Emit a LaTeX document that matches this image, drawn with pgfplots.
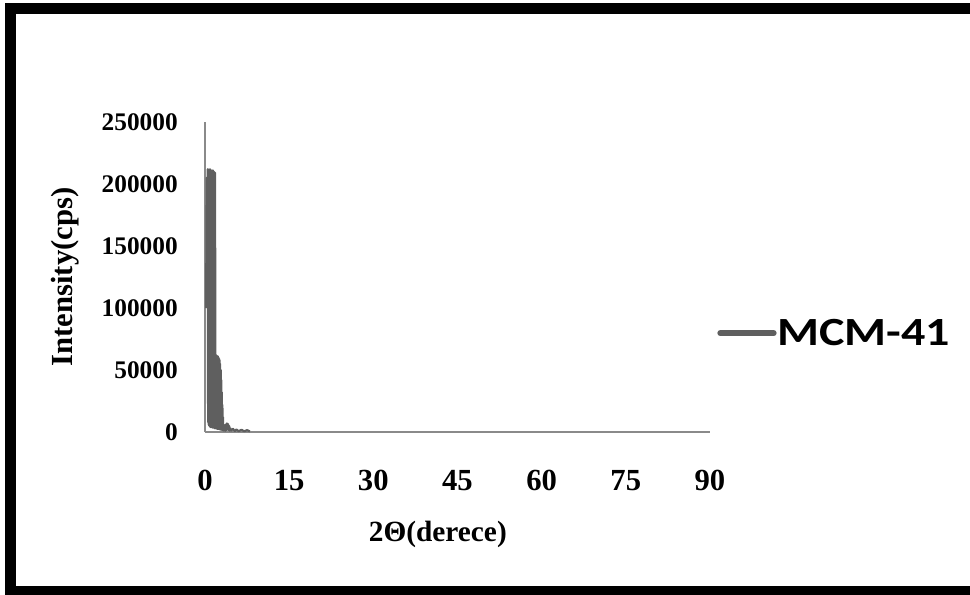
\documentclass[border=0pt]{standalone}
\usepackage{fontspec}
\setmainfont{Liberation Serif}
\newfontfamily\calib{Carlito}
\usepackage{graphicx}
\usepackage{pgfplots}
\pgfplotsset{compat=1.18}
\definecolor{dat}{HTML}{5F5F5F}
\definecolor{axc}{HTML}{8A8A8A}
\begin{document}
\begin{tikzpicture}
\useasboundingbox (0pt,0pt) rectangle (727.5pt,445.5pt);
\draw[line width=8.25pt] (745pt,438.75pt) -- (7.875pt,438.75pt) -- (7.875pt,2.25pt) -- (745pt,2.25pt);
\begin{axis}[
  at={(153.75pt,121.5pt)}, anchor=south west,
  scale only axis, width=378.75pt, height=232.5pt,
  xmin=0, xmax=90, ymin=0, ymax=250000,
  axis lines=left, axis line style={-, draw=axc, line width=1.3pt},
  major tick length=0pt,
  xtick={0,15,30,45,60,75,90},
  ytick={0,50000,100000,150000,200000,250000},
  scaled y ticks=false,
  /pgf/number format/assume math mode=true,
  yticklabel style={/pgf/number format/fixed, /pgf/number format/1000 sep={}, anchor=east, inner sep=0pt, xshift=-20.25pt, font=\fontsize{19}{22}\selectfont\bfseries},
  xticklabel style={anchor=base, inner sep=0pt, yshift=-43.5pt, font=\fontsize{23}{27}\selectfont\bfseries},
  xlabel={2Θ(derece)},
  ylabel={Intensity(cps)},
  xlabel style={at={(axis description cs:0.461,-0.332)}, anchor=center, inner sep=0pt, font=\fontsize{22}{26}\selectfont\bfseries},
  ylabel style={at={(axis description cs:-0.277,0.5)}, anchor=center, inner sep=0pt, font=\fontsize{23}{27}\selectfont\bfseries},
  legend style={at={(axis description cs:1.014,0.319)}, anchor=west, draw=none, fill=none, inner sep=0pt, font=\calib\bfseries\fontsize{30}{34}\selectfont},
  legend image code/.code={\draw[#1, line width=4.5pt, line cap=round] (0pt,0pt) -- (40pt,0pt);},
]
\addplot[color=dat, line width=1.6pt, line join=round, mark=none] coordinates {
(0.20,100000) (0.30,205000) (0.40,150000)
(0.50,212000) (0.55,8000) (0.60,209000) (0.65,6000) (0.70,211000) (0.75,5000)
(0.80,210000) (0.85,5000) (0.90,212000) (0.95,4000) (1.00,210000) (1.05,4000)
(1.10,211000) (1.15,4000) (1.20,209000) (1.25,4000) (1.30,210000) (1.35,3500)
(1.40,211000) (1.45,3500) (1.50,209000) (1.55,3500) (1.60,210000) (1.65,3500)
(1.70,208000) (1.75,3000) (1.80,209000) (1.85,3000)
(1.90,61000) (1.95,3000) (2.00,62000) (2.05,3000) (2.10,61000) (2.15,2500)
(2.20,60000) (2.25,2500) (2.30,61000) (2.35,2500) (2.40,60000) (2.45,2500)
(2.50,59000) (2.55,2500) (2.60,58000) (2.65,2000) (2.70,55000) (2.75,2000)
(2.80,50000) (2.85,2000) (2.90,42000) (2.95,1800) (3.00,32000) (3.05,1800)
(3.10,22000) (3.15,1500) (3.20,12000) (3.25,1500) (3.30,6000) (3.35,1200)
(3.50,3000) (3.60,1000) (3.70,6000) (3.80,1500) (3.90,7000) (4.00,2000)
(4.10,6500) (4.20,1500) (4.30,5000) (4.40,1000) (4.50,3000) (4.70,1200)
(5.00,2500) (5.30,800) (5.60,2000) (6.00,700) (6.50,1800) (7.00,600)
(7.50,1500) (8.00,500)
};
\addlegendentry{\hspace{-1.5pt}\scalebox{1.2}[1]{MCM-41}}
\end{axis}
\end{tikzpicture}
\end{document}
